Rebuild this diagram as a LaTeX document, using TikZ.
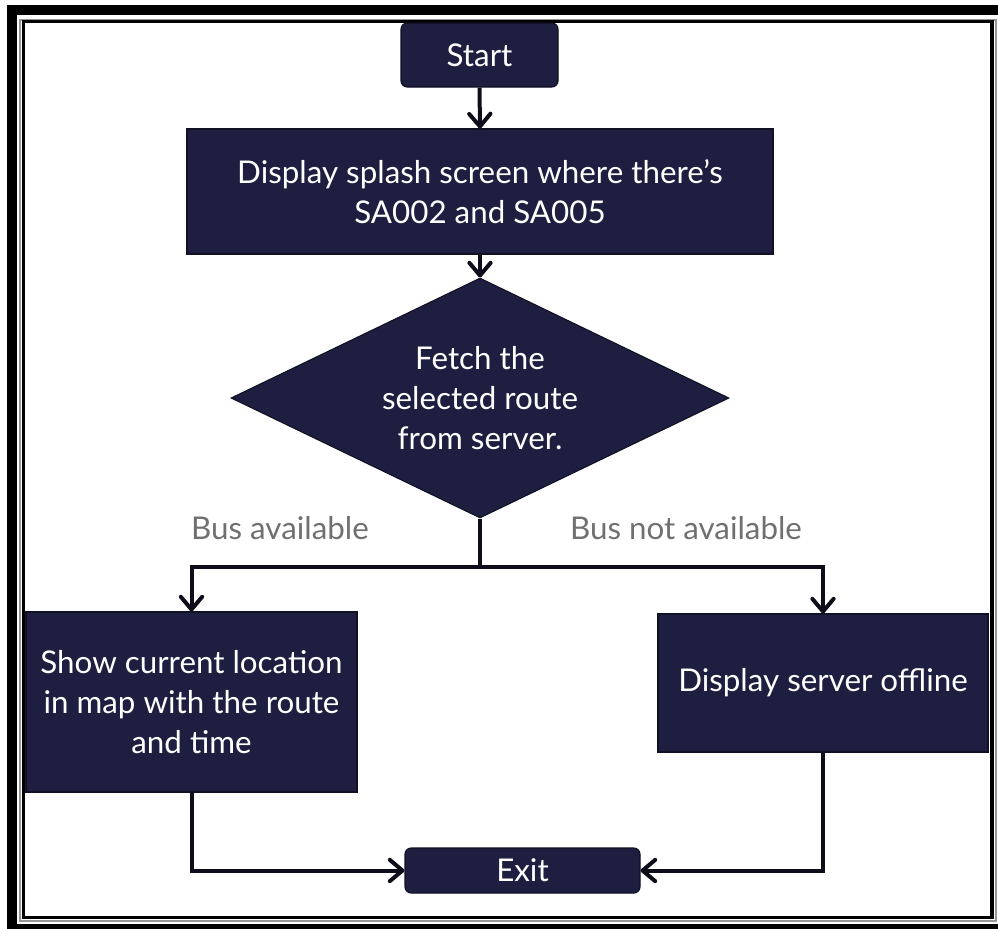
\documentclass[tikz,border=0pt]{standalone}
\usepackage{fontspec}
\setmainfont{Lato}
\usetikzlibrary{shapes.geometric,arrows.meta}

\definecolor{navy}{RGB}{30,31,64}
\definecolor{navyedge}{RGB}{16,17,36}
\definecolor{ink}{RGB}{14,14,26}
\definecolor{labelgray}{RGB}{112,112,112}
\definecolor{framegray}{RGB}{150,150,150}

\begin{document}
\begin{tikzpicture}[x=0.75pt, y=-0.75pt,
  every node/.style={text=white, align=center, font=\fontsize{23.5}{30}\selectfont},
  procbox/.style={rectangle, fill=navy, draw=navyedge, line width=0.8pt, inner sep=0pt},
  termbox/.style={procbox, rounded corners=4.5pt},
  decision/.style={diamond, shape aspect=2.07, fill=navy, draw=navyedge, line width=0.8pt, inner sep=0pt},
  branchlabel/.style={text=labelgray},
  conn/.style={draw=ink, line width=3pt,
    -{Straight Barb[length=9.5pt, width=16pt, line cap=round, line join=round]}},
  plainconn/.style={draw=ink, line width=3pt}
]
\useasboundingbox (0,0) rectangle (998,928);
\clip (0,0) rectangle (998,928);

% double page frame
\draw[line width=7.5pt] (12,10) rectangle (1010,929);
\draw[framegray, line width=1.5pt] (20,19.5) rectangle (996,920.5);
\draw[line width=2.6pt] (23.5,21.5) rectangle (992,917.5);

% flowchart nodes
\node[termbox, minimum width=157*0.75pt, minimum height=64*0.75pt] (start) at (479.5,55) {Start};
\node[procbox, minimum width=586*0.75pt, minimum height=125*0.75pt] (splash) at (480,191.5)
  {Display splash screen where there’s\\SA002 and SA005};
\node[decision, minimum width=498*0.75pt, minimum height=240*0.75pt] (fetch) at (480,398)
  {Fetch the\\selected route\\from server.};
\node[procbox, minimum width=331*0.75pt, minimum height=180*0.75pt] (show) at (191.5,702)
  {Show current location\\in map with the route\\and time};
\node[procbox, minimum width=330*0.75pt, minimum height=138*0.75pt] (offline) at (823,683)
  {Display server offline};
\node[termbox, minimum width=235*0.75pt, minimum height=45*0.75pt] (exit) at (522.5,870.5) {Exit};

% branch labels
\node[branchlabel] (lblyes) at (280,528) {Bus available};
\node[branchlabel] (lblno) at (686,528) {Bus not available};

% connectors
\coordinate (split) at (480,567);
\draw[conn] (start.south) -- (splash.north);
\draw[conn] (splash.south) -- (fetch.north);
\draw[plainconn] (fetch.south) -- (split);
\draw[conn] (split) -| (show.north);
\draw[conn] (split) -| (offline.north);
\draw[conn] (show.south) |- (exit.west);
\draw[conn] (offline.south) |- (exit.east);
\end{tikzpicture}
\end{document}
